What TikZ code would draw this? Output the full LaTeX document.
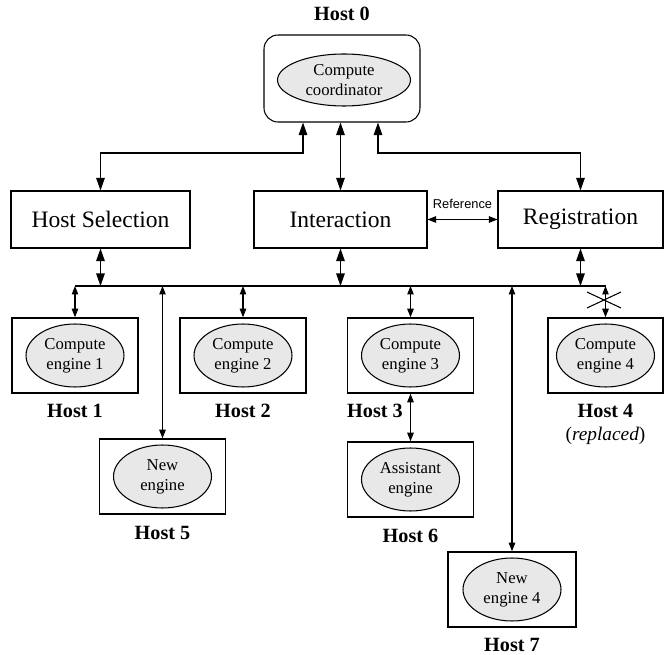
\documentclass[tikz,border=0pt]{standalone}
\usepackage{fontspec}
\setmainfont{Liberation Serif}
\newfontfamily\reffont{Liberation Sans}
\usetikzlibrary{arrows.meta,positioning,shapes.geometric}
\definecolor{egray}{RGB}{232,232,232}

\begin{document}
\begin{tikzpicture}[x=0.02cm, y=-0.02cm, line width=0.6pt,
  big/.style={{Triangle[length=2.5mm,width=1.7mm]}-{Triangle[length=2.5mm,width=1.7mm]}},
  small/.style={{Triangle[length=1.7mm,width=1.3mm]}-{Triangle[length=1.7mm,width=1.3mm]}},
  hostbox/.style={draw, line width=0.9pt, minimum width=2.52cm, minimum height=1.5cm, inner sep=0},
  engine/.style={ellipse, draw, fill=egray, minimum width=1.96cm, minimum height=1.26cm,
    inner sep=0, align=center, font=\fontsize{9.5}{11.4}\selectfont},
  module/.style={draw, minimum height=1.14cm, inner sep=0, font=\fontsize{13.4}{16}\selectfont},
  hostlbl/.style={inner sep=0, font=\fontsize{11.5}{14}\selectfont\bfseries}]
\useasboundingbox (0,0) rectangle (664,655);

% coordinator
\node[draw, rounded corners=0.28cm, minimum width=3.12cm, minimum height=1.74cm] (h0) at (342,78.5) {};
\node[engine, minimum width=2.66cm, minimum height=1.04cm] (e0) at (344,80) {Compute\\coordinator};
\node[hostlbl, above=2.7mm of h0] (l0) {Host 0};

% modules
\node[module, minimum width=3.58cm] (sel) at (100.5,219.5) {Host Selection};
\node[module, minimum width=3.46cm] (int) at (340.5,219.5) {Interaction};
\node[module, minimum width=3.3cm] (reg) at (580.5,219.5) {Registration};
\coordinate (up) at (0,153);
\coordinate (bus) at (0,286);

\draw[big] ([xshift=-0.78cm]h0.south) -- ([xshift=-0.78cm]h0.south |- up) -| (sel.north);
\draw[big] (int.north |- h0.south) -- (int.north);
\draw[big] ([xshift=0.72cm]h0.south) -- ([xshift=0.72cm]h0.south |- up) -| (reg.north);
\draw[small] (int.east) -- node[above=2mm, inner sep=0, font=\reffont\fontsize{7.3}{9}\selectfont] {Reference} (reg.west);

% hosts
\node[hostbox] (h1) at (75,355.5) {};
\node[hostbox] (h2) at (243,355.5) {};
\node[hostbox] (h3) at (410.5,355.5) {};
\node[hostbox, minimum width=2.3cm] (h4) at (605.5,355.5) {};
\node[hostbox] (h5) at (162.5,476.5) {};
\node[hostbox] (h6) at (410.5,479.5) {};
\node[hostbox, minimum width=2.56cm] (h7) at (512,589.5) {};

\node[engine] (e1) at (h1) {Compute\\engine 1};
\node[engine] (e2) at (h2) {Compute\\engine 2};
\node[engine] (e3) at (h3) {Compute\\engine 3};
\node[engine] (e4) at (h4) {Compute\\engine 4};
\node[engine] (e5) at (h5) {New\\engine};
\node[engine] (e6) at (h6) {Assistant\\engine};
\node[engine] (e7) at (h7) {New\\engine 4};

\node[hostlbl, below=2mm of h1] (l1) {Host 1};
\node[hostlbl, below=2mm of h2] (l2) {Host 2};
\node[hostlbl, anchor=north west] (l3) at ([yshift=-2mm]h3.south west) {Host 3};
\node[hostlbl, below=2mm of h4] (l4) {Host 4};
\node[inner sep=0, font=\fontsize{11}{13}\selectfont, below=1.6mm of l4] (rp) {(\textit{replaced})};
\node[hostlbl, below=2.2mm of h5] (l5) {Host 5};
\node[hostlbl, below=2.2mm of h6] (l6) {Host 6};
\node[hostlbl, below=2mm of h7] (l7) {Host 7};

% bus
\draw (h1.north |- bus) -- (h4.north |- bus);
\draw[big] (sel.south) -- (sel.south |- bus);
\draw[big] (int.south) -- (int.south |- bus);
\draw[big] (reg.south) -- (reg.south |- bus);
\foreach \h in {h1,h2,h3,h4,h5,h7}
  \draw[small] (\h.north |- bus) -- (\h.north);
\draw[small] (h3.south) -- (h6.north);

% broken link to host 4
\coordinate (cut) at (604,300);
\draw (cut) +(-17,-8) -- +(17,8);
\draw (cut) +(-17,8) -- +(17,-8);
\end{tikzpicture}
\end{document}
